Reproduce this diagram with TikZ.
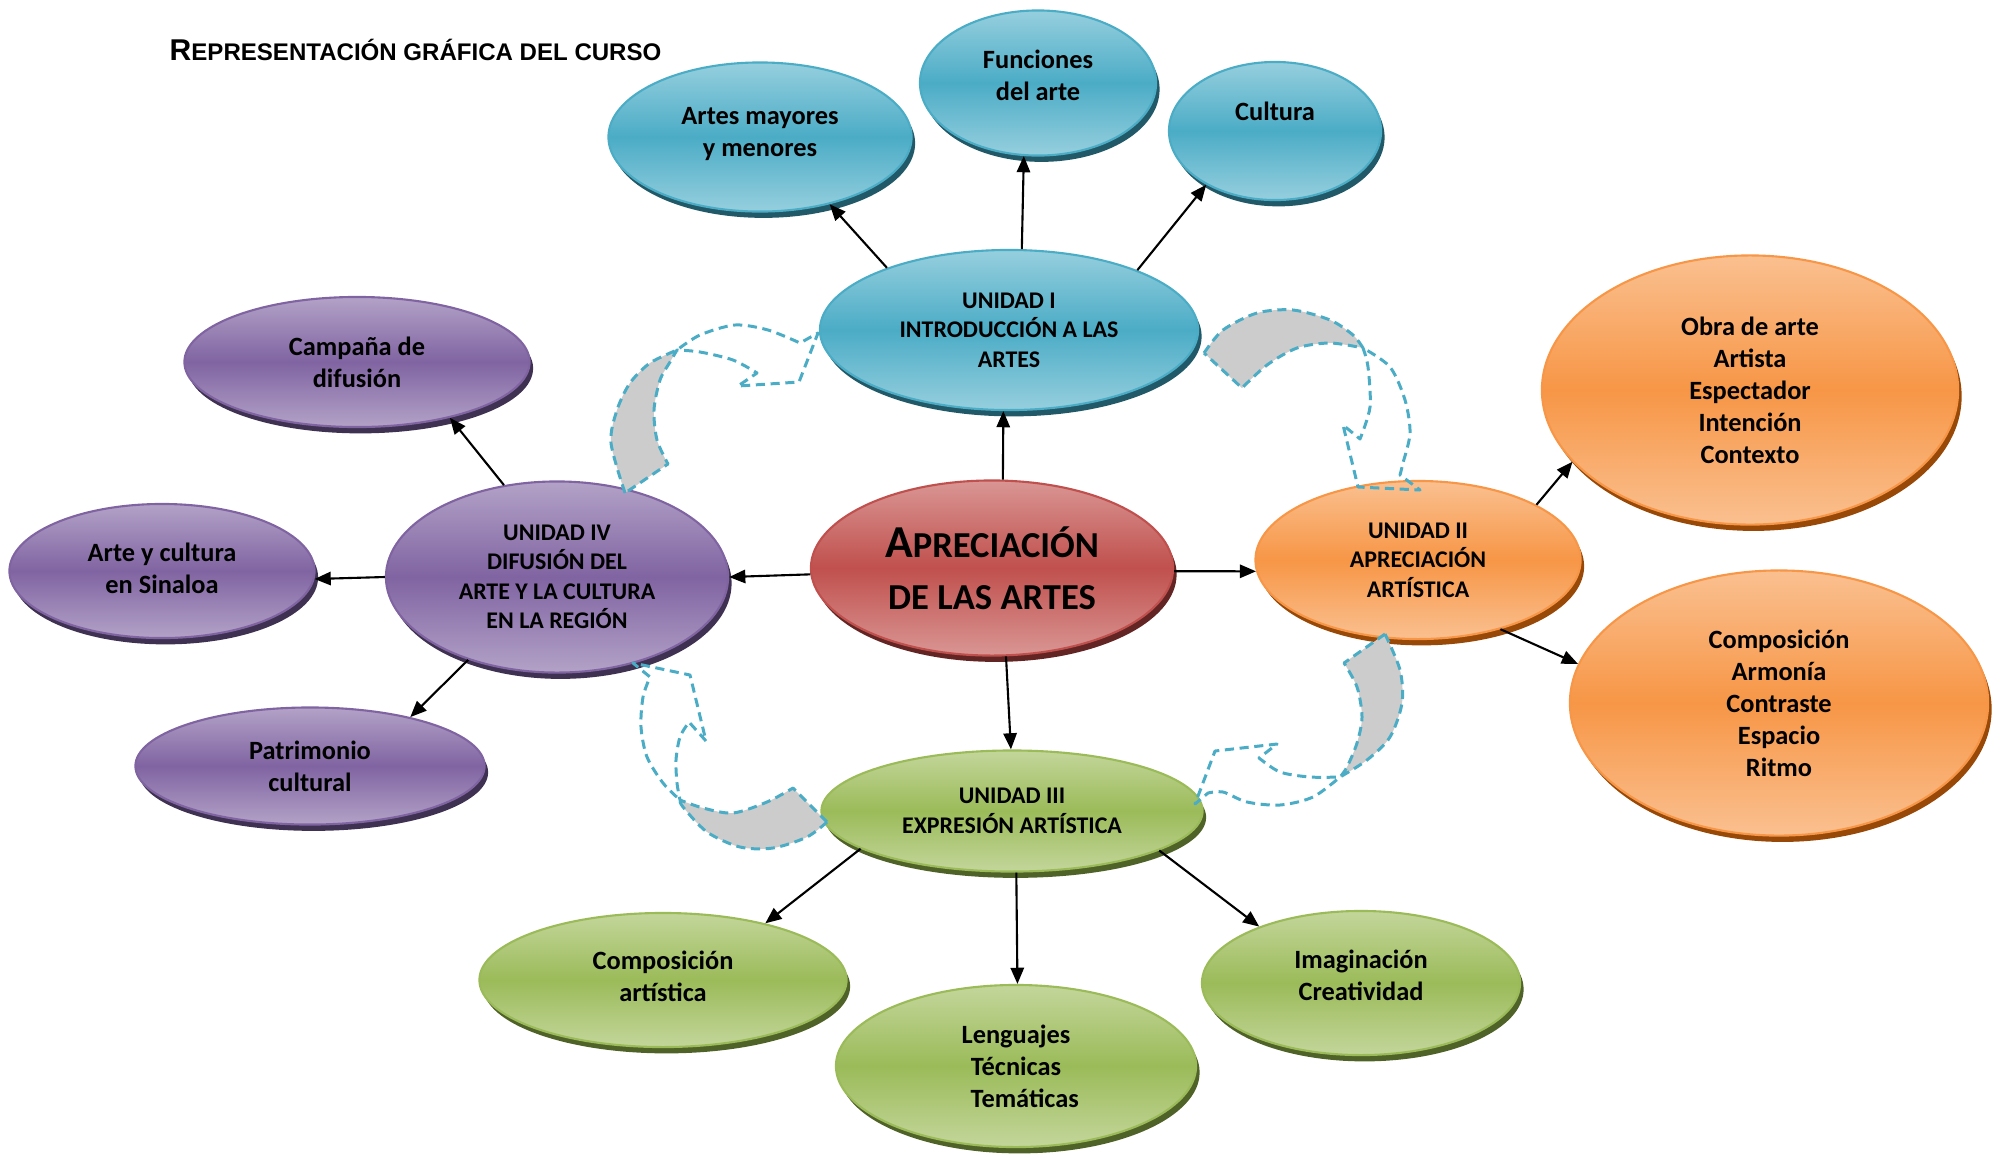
\documentclass[tikz,border=0pt]{standalone}
\usepackage{fontspec}
\setmainfont{Carlito}
\newfontfamily\titlefont{Liberation Sans}
\usetikzlibrary{shapes, arrows.meta, shadows}

\definecolor{bluemain}{RGB}{75,172,198}
\definecolor{bluelight}{RGB}{150,207,222}
\definecolor{bluedark}{RGB}{33,89,104}
\definecolor{purplemain}{RGB}{128,100,162}
\definecolor{purplelight}{RGB}{179,162,199}
\definecolor{purpledark}{RGB}{63,49,81}
\definecolor{redmain}{RGB}{192,80,77}
\definecolor{redlight}{RGB}{217,150,148}
\definecolor{reddark}{RGB}{99,37,35}
\definecolor{orangemain}{RGB}{247,150,70}
\definecolor{orangelight}{RGB}{250,192,144}
\definecolor{orangedark}{RGB}{152,72,7}
\definecolor{greenmain}{RGB}{155,187,89}
\definecolor{greenlight}{RGB}{195,214,155}
\definecolor{greendark}{RGB}{79,98,40}
\definecolor{twistgray}{RGB}{204,204,204}

\newcommand\topicfont{\fontsize{7.5}{9.1}\selectfont\bfseries}
\newcommand\unitfont{\fontsize{6.8}{8.4}\selectfont\bfseries}
\newcommand\corefont{\fontsize{10.4}{14.8}\selectfont\bfseries}
% extra depth under the last line, lifts the text in its ellipse
\newcommand\lift[1]{\rule[-#1]{0pt}{#1}}

\begin{document}
\begin{tikzpicture}[x=0.01cm, y=-0.01cm, >={Triangle[length=4.6pt, width=3.8pt]}]
\tikzset{
  ball/.style n args={3}{ellipse, draw=#2, line width=0.6pt,
                     top color=#1, bottom color=#1, middle color=#2,
                     drop shadow={shadow xshift=1pt, shadow yshift=-1.8pt, fill=#3, opacity=1},
                     align=center, inner sep=0pt, font=\topicfont},
  blueball/.style={ball={bluelight}{bluemain}{bluedark}},
  purpleball/.style={ball={purplelight}{purplemain}{purpledark}},
  redball/.style={ball={redlight}{redmain}{reddark}},
  orangeball/.style={ball={orangelight}{orangemain}{orangedark}},
  greenball/.style={ball={greenlight}{greenmain}{greendark}},
  unit/.style={font=\unitfont},
  link/.style={->, line width=0.6pt},
  twistline/.style={draw=bluemain, line width=0.85pt, dash pattern=on 2.6pt off 1.6pt,
                     line join=round},
  };

\useasboundingbox (0,0) rectangle (2004,1157);

\node[anchor=base west, inner sep=0pt] (title) at (169,60)
  {\titlefont\bfseries{\fontsize{8.55}{10}\selectfont R}\fontsize{6.84}{10}\selectfont EPRESENTACIÓN GRÁFICA DEL CURSO};

% centro
\node[redball, font=\corefont, minimum width=3.62cm, minimum height=1.75cm] (apr) at (992,568)
  {{\fontsize{13}{14.8}\selectfont A}PRECIACIÓN\\DE LAS ARTES};

% unidad I
\node[blueball, unit, minimum width=3.78cm, minimum height=1.60cm] (uI)  at (1009,330) {UNIDAD I\\INTRODUCCIÓN A LAS\\ARTES};
\node[blueball, minimum width=3.03cm, minimum height=1.49cm] (art) at (760,137)  {Artes mayores\\y menores\lift{3pt}};
\node[blueball, minimum width=2.36cm, minimum height=1.45cm] (fun) at (1038,83)  {Funciones\\del arte\lift{4.5pt}};
\node[blueball, minimum width=2.12cm, minimum height=1.38cm] (cul) at (1275,131) {\raisebox{11pt}{Cultura}};

% unidad II
\node[orangeball, unit, minimum width=3.25cm, minimum height=1.58cm] (uII) at (1418,560) {UNIDAD II\\APRECIACIÓN\\ARTÍSTICA};
\node[orangeball, minimum width=4.16cm, minimum height=2.69cm] (obra) at (1750,390) {Obra de arte\\Artista\\Espectador\\Intención\\Contexto};
\node[orangeball, minimum width=4.18cm, minimum height=2.65cm] (comp) at (1779,703) {Composición\\Armonía\\Contraste\\Espacio\\Ritmo};

% unidad III
\node[greenball, unit, minimum width=3.81cm, minimum height=1.21cm] (uIII) at (1012,811) {UNIDAD III\\EXPRESIÓN ARTÍSTICA};
\node[greenball, minimum width=3.67cm, minimum height=1.34cm] (cart) at (663,980)  {Composición\\artística\lift{2.2pt}};
\node[greenball, minimum width=3.60cm, minimum height=1.62cm] (len)  at (1016,1066) {Lenguajes\\Técnicas\\\hspace*{5pt}Temáticas};
\node[greenball, minimum width=3.18cm, minimum height=1.44cm] (ima)  at (1361,983) {Imaginación\\Creatividad\lift{4.4pt}};

% unidad IV
\node[purpleball, unit, minimum width=3.42cm, minimum height=1.91cm] (uIV) at (557,577) {UNIDAD IV\\DIFUSIÓN DEL\\ARTE Y LA CULTURA\\EN LA REGIÓN};
\node[purpleball, minimum width=3.45cm, minimum height=1.30cm] (camp) at (357,362) {Campaña de\\difusión};
\node[purpleball, minimum width=3.05cm, minimum height=1.34cm] (sin)  at (162,571) {Arte y cultura\\en Sinaloa\lift{1.5pt}};
\node[purpleball, minimum width=3.49cm, minimum height=1.17cm] (pat)  at (310,766) {Patrimonio\\cultural};

% conexiones
\draw[link] (apr.83)   -- (uI.266);
\draw[link] (apr.182)  -- (uIV.0);
\draw[link] (apr.-1)   -- (uII.184);
\draw[link] (apr.279)  -- (uIII.91);

\draw[link] (uI.153)   -- (art.-44);
\draw[link] (uI.81)    -- (fun.259);
\draw[link] (uI.25)    -- (cul.218);

\draw[link] (uII.25)   -- (obra.202);
\draw[link] (uII.-40)  -- (comp.169);

\draw[link] (uIII.194) -- (cart.29);
\draw[link] (uIII.274) -- (len.89);
\draw[link] (uIII.-15) -- (ima.151);

\draw[link] (uIV.120)  -- (camp.-31);
\draw[link] (uIV.180)  -- (sin.-3);
\draw[link] (uIV.223)  -- (pat.26);

% flechas circulares
% IV -> I
\fill[twistgray] plot[smooth] coordinates {(625,493) (611,443) (617,410) (630,383) (650,363) (677,350)}
  -- plot[smooth] coordinates {(677,350) (670,362) (660,380) (654,410) (657,440) (668,464)} -- cycle;
\draw[twistline] plot[smooth] coordinates {(625,493) (611,443) (617,410) (630,383) (650,363) (677,350)}
  -- plot[smooth] coordinates {(677,350) (700,335) (735,325) (768,330) (800,343)}
  -- (818,333) -- (799,382) -- (738,386) -- (757,373)
  -- plot[smooth] coordinates {(757,373) (733,360) (700,352) (677,350)}
  -- plot[smooth] coordinates {(677,350) (670,362) (660,380) (654,410) (657,440) (668,464)} -- cycle;

% I -> II
\fill[twistgray] plot[smooth] coordinates {(1204,353) (1223,330) (1257,313) (1293,310) (1330,320) (1353,335) (1363,348)}
  -- plot[smooth] coordinates {(1363,348) (1330,343) (1297,348) (1267,365) (1242,388)} -- cycle;
\draw[twistline] plot[smooth] coordinates {(1204,353) (1223,330) (1257,313) (1293,310) (1330,320) (1353,335) (1363,348)}
  -- plot[smooth] coordinates {(1363,348) (1390,367) (1405,400) (1410,433) (1403,463) (1400,475)}
  -- (1420,490) -- (1358,487) -- (1343,425) -- (1360,439)
  -- plot[smooth] coordinates {(1360,439) (1370,407) (1368,367) (1363,348)}
  -- plot[smooth] coordinates {(1363,348) (1330,343) (1297,348) (1267,365) (1242,388)} -- cycle;

% II -> III
\fill[twistgray] plot[smooth] coordinates {(1385,634) (1400,670) (1402,703) (1390,737) (1367,760) (1340,777)}
  -- plot[smooth] coordinates {(1340,777) (1347,767) (1357,743) (1362,717) (1357,687) (1344,663)} -- cycle;
\draw[twistline] plot[smooth] coordinates {(1385,634) (1400,670) (1402,703) (1390,737) (1367,760) (1340,777)}
  -- plot[smooth] coordinates {(1340,777) (1313,797) (1280,805) (1247,802) (1223,792) (1208,793)}
  -- (1195,804) -- (1215,751) -- (1277,744) -- (1259,758)
  -- plot[smooth] coordinates {(1259,758) (1280,772) (1310,777) (1340,777)}
  -- plot[smooth] coordinates {(1340,777) (1347,767) (1357,743) (1362,717) (1357,687) (1344,663)} -- cycle;

% III -> IV
\fill[twistgray] plot[smooth] coordinates {(827,822) (807,837) (773,848) (740,847) (707,832) (683,807) (680,800)}
  -- plot[smooth] coordinates {(680,800) (703,808) (733,813) (767,802) (793,788)} -- cycle;
\draw[twistline] plot[smooth] coordinates {(827,822) (807,837) (773,848) (740,847) (707,832) (683,807) (680,800)}
  -- plot[smooth] coordinates {(680,800) (663,783) (647,757) (641,727) (643,697) (650,677)}
  -- (633,663) -- (690,675) -- (706,741) -- (689,722)
  -- plot[smooth] coordinates {(689,722) (680,737) (676,760) (677,783) (680,800)}
  -- plot[smooth] coordinates {(680,800) (703,808) (733,813) (767,802) (793,788)} -- cycle;

\end{tikzpicture}
\end{document}
